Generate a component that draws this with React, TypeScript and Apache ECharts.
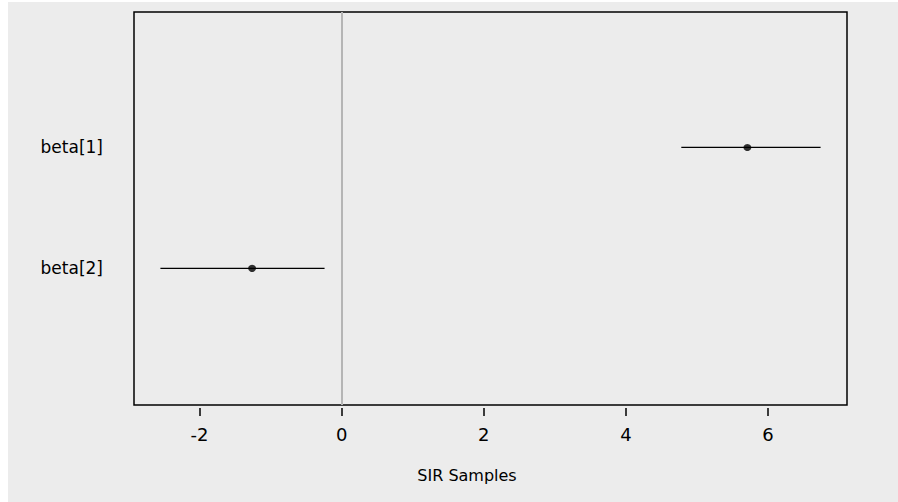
import React, { useEffect, useRef } from "react";
import * as echarts from "echarts";

const params = ["beta[1]", "beta[2]"];
const rowPos = [1, 2];
const estimates = [5.71, -1.26];
const lower = [4.78, -2.55];
const upper = [6.74, -0.24];
const xTicks = [-2, 0, 2, 4, 6];
const xTitle = "SIR Samples";

export default function App() {
  const ref = useRef<HTMLDivElement>(null);
  useEffect(() => {
    if (!ref.current) return;
    const chart = echarts.init(ref.current, null, { renderer: "svg" });
    const lo = Math.min(...lower);
    const hi = Math.max(...upper);
    const ext = (hi - lo) * 0.04;
    const font = "'DejaVu Sans', 'Liberation Sans', Arial, sans-serif";
    const series: any[] = params.map((p, i) => ({
      type: "line",
      name: p,
      data: [
        [lower[i], rowPos[i]],
        [upper[i], rowPos[i]],
      ],
      symbol: "none",
      lineStyle: { color: "#000", width: 1.3 },
      silent: true,
      markLine:
        i === 0
          ? {
              silent: true,
              symbol: "none",
              label: { show: false },
              lineStyle: { color: "#b5b5b5", width: 2, type: "solid" },
              data: [{ xAxis: 0 }],
            }
          : undefined,
    }));
    series.push({
      type: "scatter",
      data: estimates.map((e, i) => [e, rowPos[i]]),
      symbol: "circle",
      symbolSize: [8, 7],
      itemStyle: { color: "#000" },
      silent: true,
      z: 5,
    });
    chart.setOption({
      animation: false,
      backgroundColor: "#ececec",
      grid: {
        left: 126,
        top: 10,
        width: 713,
        height: 393,
        show: true,
        borderColor: "#000",
        borderWidth: 1.5,
        backgroundColor: "transparent",
      },
      xAxis: {
        type: "value",
        position: "bottom",
        min: lo - ext,
        max: hi + ext,
        offset: 3,
        axisLine: { show: false, onZero: false },
        splitLine: { show: false },
        axisTick: {
          show: true,
          length: 8,
          customValues: xTicks,
          lineStyle: { color: "#000", width: 1.5 },
        },
        axisLabel: {
          customValues: xTicks,
          margin: 17,
          color: "#000",
          fontSize: 18,
          fontFamily: font,
        },
      },
      yAxis: {
        type: "value",
        inverse: true,
        min: -0.12,
        max: 3.13,
        axisLine: { show: false, onZero: false },
        splitLine: { show: false },
        axisTick: { show: false },
        axisLabel: {
          customValues: rowPos,
          formatter: (v: number) => params[rowPos.indexOf(v)] ?? "",
          margin: 31,
          color: "#000",
          fontSize: 17,
          fontFamily: font,
        },
      },
      graphic: [
        {
          type: "text",
          x: 459,
          y: 473,
          style: {
            text: xTitle,
            fill: "#000",
            font: `16px ${font}`,
            align: "center",
            verticalAlign: "middle",
          },
        },
      ],
      series,
    });
    return () => chart.dispose();
  }, []);
  return (
    <div
      style={{
        position: "absolute",
        left: 8,
        top: 2,
        width: 890,
        height: 500,
        background: "#ececec",
      }}
    >
      <div ref={ref} style={{ width: 890, height: 500 }} />
    </div>
  );
}
